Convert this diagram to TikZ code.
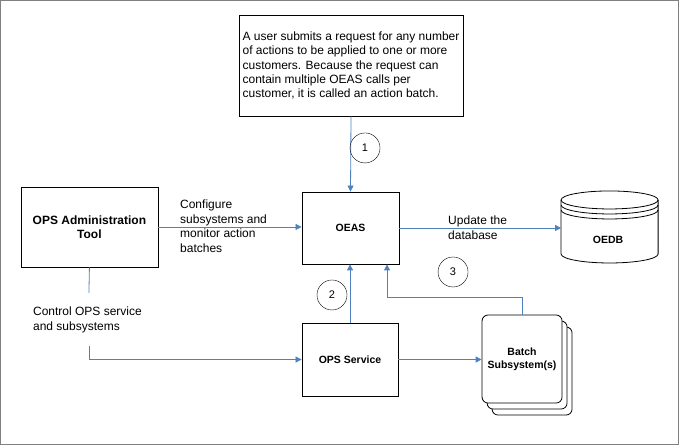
\documentclass[tikz,border=0pt]{standalone}
\usepackage{fontspec}
\setmainfont{Liberation Sans}
\usetikzlibrary{arrows.meta}
\definecolor{linkblue}{HTML}{4F81BD}
\definecolor{framegray}{HTML}{808080}

\begin{document}
\begin{tikzpicture}[x=1pt,y=-1pt,
    box/.style={draw,thick,minimum width=#1},
    txt/.style={font=\fontsize{12}{14.5}\selectfont,align=left,inner sep=0pt},
    bold/.style={font=\fontsize{10.5}{13}\selectfont\bfseries,align=center},
    num/.style={draw,circle,minimum size=30pt,inner sep=0pt,font=\fontsize{11}{12}\selectfont},
    arr/.style={draw=linkblue,thick,-{Triangle[width=6pt,length=6pt]}},
    link/.style={draw=linkblue,thick}]
        \draw[framegray,thick] (0.5,0.5) rectangle (678.5,444.5);
        % boxes
        \node[box=224pt,minimum height=101pt,align=left,
              font=\fontsize{12}{14}\selectfont,inner sep=3pt] (req) at (351,65.5)
              {A user submits a request for any number\\of actions to be applied to one or more\\customers. Because the request can\\contain multiple OEAS calls per\\customer, it is called an action batch.};
        \node[box=97pt,minimum height=72pt,bold] (oeas) at (350.5,228) {OEAS};
        \node[box=137pt,minimum height=80pt,bold,font=\fontsize{12}{14}\selectfont\bfseries] (admin) at (89.5,227) {OPS Administration\\Tool};
        \node[box=96pt,minimum height=73pt,bold] (ops) at (350,359.5) {OPS Service};
        % stacked subsystems
        \foreach \d in {10,5}{%
            \draw[thick,fill=white,rounded corners=6pt] (482+\d,315+1.2*\d) rectangle (562+\d,403+1.2*\d);}
        \node[box=80pt,minimum height=88pt,rounded corners=6pt,fill=white,bold] (batch) at (522,359) {Batch\\Subsystem(s)};
        % database
        \draw[thick,fill=white] (561,200) -- (561,254) arc[start angle=180,end angle=360,x radius=48.5,y radius=-9]
              -- (658,200) arc[start angle=0,end angle=180,x radius=48.5,y radius=-9] -- cycle;
        \draw[thick] (561,200) arc[start angle=180,end angle=360,x radius=48.5,y radius=-9];
        \foreach \dy in {5,10}{%
            \draw[thick] (561,200+\dy) arc[start angle=180,end angle=360,x radius=48.5,y radius=-9];}
        \node[bold] (oedb) at (608,240) {OEDB};
        \coordinate (dbw) at (561,228);
        % connectors
        \draw[arr] (req.south) -- (oeas.north);
        \draw[arr] (admin.east) -- (admin.east -| oeas.west);
        \draw[arr] (oeas.east) -- (dbw);
        \draw[arr] (ops.north) -- (ops.north |- oeas.south);
        \draw[arr] (ops.east) -- (ops.east -| batch.west);
        \draw[arr] (batch.north) -- ++(0,-17) -| ([xshift=36.5pt]oeas.south);
        \coordinate (c1) at (89,293);
        \coordinate (c2) at (89,346);
        \draw[link] (admin.south) -- (c1);
        \draw[arr] (c2) |- (ops.west);
        % labels
        \node[txt,anchor=north west] (cfg) at (180,200) {Configure\\subsystems and\\monitor action\\batches};
        \node[txt,anchor=north west] (upd) at (448,216) {Update the\\database};
        \node[txt,anchor=north west] (ctrl) at (33,307) {Control OPS service\\and subsystems};
        \node[num] (n1) at (365,148) {1};
        \node[num] (n2) at (332,295) {2};
        \node[num] (n3) at (453,272) {3};
\end{tikzpicture}
\end{document}
